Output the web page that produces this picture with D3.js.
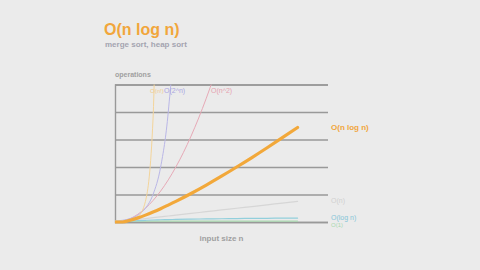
<!DOCTYPE html>
<html>
<head>
<meta charset="utf-8">
<script src="https://cdn.jsdelivr.net/npm/d3@7"></script>
<style>
  html, body { margin: 0; padding: 0; background: #ebebeb; }
  svg { display: block; font-family: "Liberation Sans", Arial, sans-serif; }
</style>
</head>
<body>
<div id="chart"></div>
<script>
// input size n (sample points)
const nValues = [0, 1, 2, 3, 4, 5, 6, 7, 8, 10, 12, 14, 16, 18, 20, 22, 24];

// operations per series, same order as nValues
const opsConst = [1, 1, 1, 1, 1, 1, 1, 1, 1, 1, 1, 1, 1, 1, 1, 1, 1];
const opsLog   = [0, 0, 1, 1.6, 2, 2.3, 2.6, 2.8, 3, 3.3, 3.6, 3.8, 4, 4.2, 4.3, 4.5, 4.6];
const opsLinear = [0, 1, 2, 3, 4, 5, 6, 7, 8, 10, 12, 14, 16, 18, 20, 22, 24];
const opsNLogN = [0, 0, 2, 4.8, 8, 11.6, 15.5, 19.7, 24, 33.2, 43, 53.3, 64, 75, 86.4, 98.1, 110];
const opsSquare = [0, 1, 4, 9, 16, 25, 36, 49, 64, 100, 144, 196, 256, 324, 400, 484, 576];
const opsExp   = [1, 2, 4, 8, 16, 32, 64, 128, 256, 1024];
const opsFact  = [1, 1, 2, 6, 24, 120, 720];

const yTicks = [0, 32, 64, 96, 128, 160];

const series = [
    { name: "O(1)",       values: opsConst,  color: "#a9d9b0", width: 1.2 },
    { name: "O(log n)",   values: opsLog,    color: "#92cfdc", width: 1.2 },
    { name: "O(n)",       values: opsLinear, color: "#d6d6d6", width: 1.2 },
    { name: "O(n^2)",     values: opsSquare, color: "#e6a9b6", width: 1 },
    { name: "O(2^n)",     values: opsExp,    color: "#b9b6e6", width: 1 },
    { name: "O(n!)",      values: opsFact,   color: "#f3d49a", width: 1 },
    { name: "O(n log n)", values: opsNLogN,  color: "#f2a83a", width: 3.2 }
];

const width = 480;
const height = 270;
const plotLeft = 115, plotRight = 328, plotTop = 84.5, plotBottom = 222;

const x = d3.scaleLinear().domain([0, 28]).range([plotLeft, plotRight]);
const y = d3.scaleLinear().domain([0, 160]).range([plotBottom, plotTop]);

const svg = d3.select("#chart").append("svg")
    .attr("width", width)
    .attr("height", height);

// title
svg.append("text")
    .attr("x", 104).attr("y", 35)
    .attr("fill", "#f1a63b")
    .attr("font-size", 16)
    .attr("font-weight", "bold")
    .text("O(n log n)");

svg.append("text")
    .attr("x", 105).attr("y", 46.5)
    .attr("fill", "#a4a4b0")
    .attr("font-size", 8)
    .attr("font-weight", "bold")
    .text("merge sort, heap sort");

// gridlines
const grid = d3.axisLeft(y).tickValues(yTicks).tickSize(-(plotRight - plotLeft)).tickFormat("");
svg.append("g")
    .attr("transform", `translate(${plotLeft},0)`)
    .call(grid)
    .call(g => g.select(".domain").attr("stroke", "#999").attr("stroke-width", 1.4))
    .call(g => g.selectAll(".tick line").attr("stroke", "#999").attr("stroke-width", 1.4));

svg.append("text")
    .attr("x", plotLeft).attr("y", 77)
    .attr("fill", "#a0a0a0")
    .attr("font-size", 7)
    .attr("font-weight", "bold")
    .text("operations");

svg.append("text")
    .attr("x", (plotLeft + plotRight) / 2).attr("y", 241)
    .attr("text-anchor", "middle")
    .attr("fill", "#a0a0a0")
    .attr("font-size", 8)
    .attr("font-weight", "bold")
    .text("input size n");

// clip to the plot
svg.append("defs").append("clipPath").attr("id", "clip")
    .append("rect")
    .attr("x", plotLeft).attr("y", plotTop)
    .attr("width", plotRight - plotLeft).attr("height", plotBottom - plotTop + 4);

const line = d3.line()
    .x((d, i) => x(nValues[i]))
    .y(d => y(d))
    .curve(d3.curveMonotoneX);

svg.append("g").attr("clip-path", "url(#clip)")
    .selectAll("path")
    .data(series)
    .enter()
    .append("path")
    .attr("d", d => line(d.values))
    .attr("fill", "none")
    .attr("stroke", d => d.color)
    .attr("stroke-width", d => d.width)
    .attr("stroke-linecap", "round");

// labels on the steep curves, just under the top gridline
const topLabels = [
    { name: "O(n!)",  x: 150, size: 6, color: "#f0cc8a" },
    { name: "O(2^n)", x: 164, size: 7, color: "#aaa6e2" },
    { name: "O(n^2)", x: 211, size: 7, color: "#e6a2b0" }
];
svg.selectAll(".top-label")
    .data(topLabels)
    .enter()
    .append("text")
    .attr("class", "top-label")
    .attr("x", d => d.x).attr("y", 93)
    .attr("fill", d => d.color)
    .attr("font-size", d => d.size)
    .text(d => d.name);

// labels at the right
const rightLabels = [
    { name: "O(n log n)", y: 130, color: "#f1a63b", bold: true, size: 8 },
    { name: "O(n)",       y: 203, color: "#d0d0d0", bold: false, size: 7 },
    { name: "O(log n)",   y: 219.5, color: "#86c6d8", bold: false, size: 7 },
    { name: "O(1)",       y: 226.5, color: "#a9d9b0", bold: false, size: 6 }
];
svg.selectAll(".right-label")
    .data(rightLabels)
    .enter()
    .append("text")
    .attr("class", "right-label")
    .attr("x", 331).attr("y", d => d.y)
    .attr("fill", d => d.color)
    .attr("font-size", d => d.size)
    .attr("font-weight", d => d.bold ? "bold" : "normal")
    .text(d => d.name);
</script>
</body>
</html>
